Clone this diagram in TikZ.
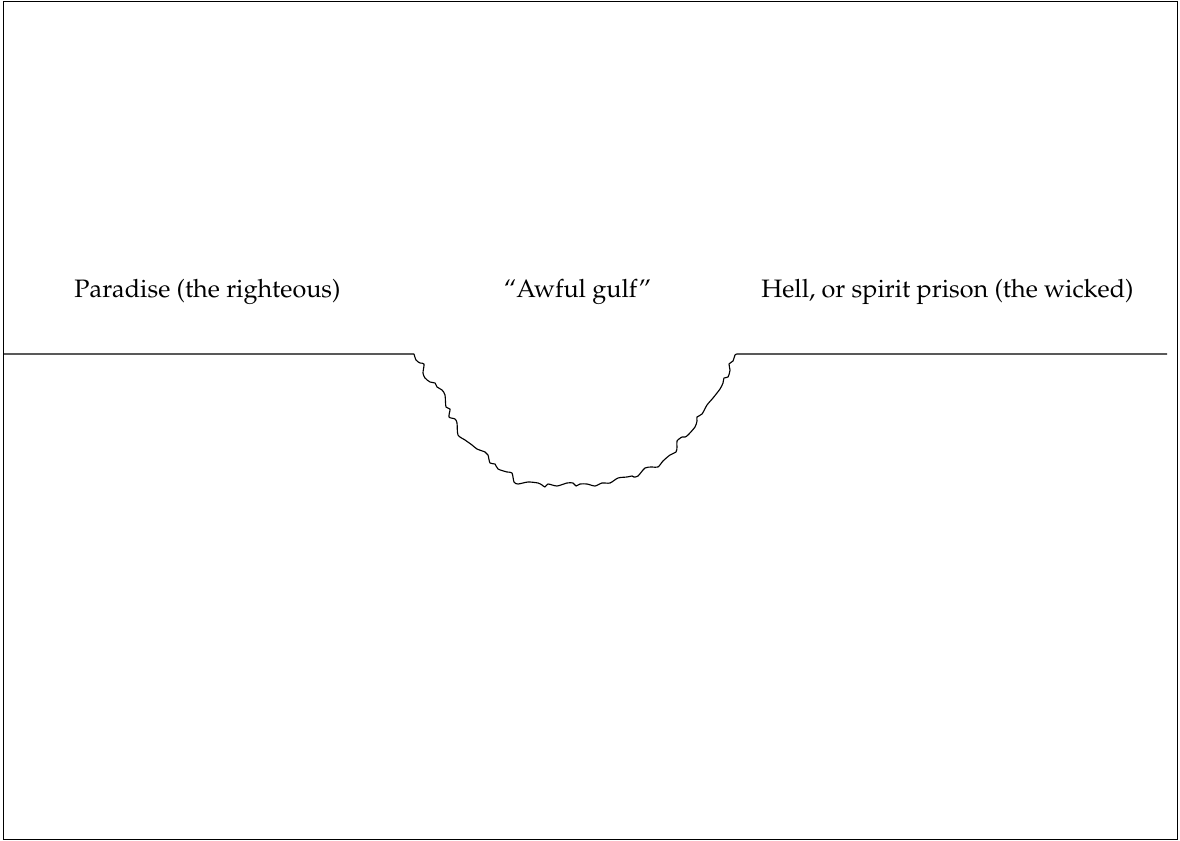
\documentclass[tikz,border=0pt]{standalone}
\usepackage[T1]{fontenc}
\usepackage{mathpazo}
\tikzset{
  frame/.style={draw=black, line width=0.8pt},
  ground/.style={draw=black, line width=0.85pt, line join=round},
  label/.style={anchor=base, inner sep=0pt, font=\fontsize{18.9}{22}\selectfont}
}
\begin{document}
\begin{tikzpicture}[x=0.75pt, y=-0.75pt]
\useasboundingbox (0,0) rectangle (1180,841);
\draw[frame] (3.5,1.5) rectangle (1177.5,839.5);
\coordinate (lstart) at (3.5,354);
\coordinate (lend) at (414,354);
\coordinate (rstart) at (737,354);
\coordinate (rend) at (1167,354);
\draw[ground] (lstart) -- (lend)
  plot[smooth, tension=0.45] coordinates {(414,354)
  (416,360) (420,363) (424,364) (423,373) (425,378) (430,382)
  (435,383) (437,387) (442,390) (445,395) (446,407) (450,409)
  (449,417) (455,419) (457,423) (458,435) (465,440) (472,445)
  (477,449) (485,452) (488,455) (490,463) (495,464) (498,469)
  (507,472) (512,473) (514,482) (518,484) (528,482) (538,483)
  (542,485) (545,487) (548,484) (557,486) (567,483) (573,483)
  (576,486) (580,484) (587,484) (595,486) (602,483) (610,483)
  (618,478) (627,477) (632,476) (634,477) (638,476) (645,468)
  (652,467) (658,467) (663,461) (670,455) (676,452) (677,447)
  (677,441) (682,437) (685,437) (688,435) (695,427) (697,421)
  (697,417) (702,414) (707,405) (713,398) (720,389) (723,383)
  (724,378) (728,377) (730,370) (729,364) (733,361) (735,355) (737,354)}
  -- (rend);
\node[label] (paradise) at (207.5,298) {Paradise (the righteous)};
\node[label] (gulf) at (577.5,298) {``Awful gulf''};
\node[label] (hell) at (947.5,298) {Hell, or spirit prison (the wicked)};
\end{tikzpicture}
\end{document}
